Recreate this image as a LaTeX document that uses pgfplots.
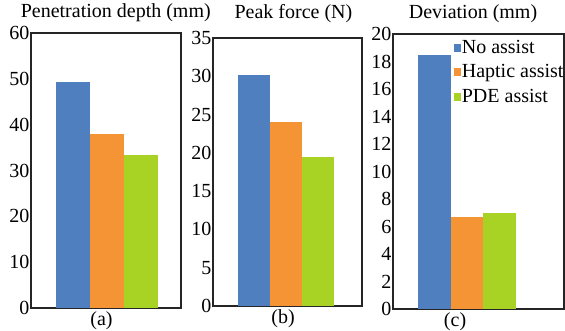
\documentclass[border=0pt]{standalone}
\usepackage{pgfplots}
\pgfplotsset{compat=1.18}
\usepackage{fontspec}
\setmainfont{Liberation Serif}
\definecolor{cblue}{HTML}{4F7FBF}
\definecolor{corange}{HTML}{F59434}
\definecolor{cgreen}{HTML}{A8D324}
\definecolor{frame}{HTML}{252525}
\newcommand{\bigf}{\rmfamily\fontsize{20bp}{24bp}\selectfont}
\pgfplotsset{
  panel/.style={
    scale only axis,
    anchor=south west,
    ybar=0pt,
    ymin=0,
    xmin=-1,
    xtick=\empty,
    axis line style={frame, line width=1.6bp},
    major tick length=0pt,
    tick style={draw=none},
    /pgf/number format/assume math mode=true,
    ticklabel style={font=\bigf},
    yticklabel style={inner sep=1.5bp},
    title style={font=\bigf, anchor=base, inner sep=0pt},
    xlabel style={font=\bigf, anchor=north, inner sep=0pt},
  },
  lg/.style={legend image code/.code={\fill[##1] (0bp,-3.5bp) rectangle (7.5bp,4.5bp);}},
}
\begin{document}
\begin{tikzpicture}
\useasboundingbox (0,0) rectangle (565bp,331bp);
% (a)
\begin{axis}[panel,
  at={(31bp,23bp)}, width=150bp, height=275bp,
  xmax=0.961, ymax=60, ytick={0,10,...,60},
  bar width=34bp,
  title={Penetration depth (mm)},
  title style={at={(axis description cs:0.565,1.033)}},
  xlabel={(a)},
  xlabel style={at={(axis description cs:0.47,-0.012)}},
]
\addplot[fill=cblue, draw=none] coordinates {(0,49.4)};
\addplot[fill=corange, draw=none] coordinates {(0,37.9)};
\addplot[fill=cgreen, draw=none] coordinates {(0,33.3)};
\end{axis}
% (b)
\begin{axis}[panel,
  at={(213bp,25bp)}, width=149bp, height=268bp,
  xmax=1.041, ymax=35, ytick={0,5,...,35},
  bar width=32bp,
  title={Peak force (N)},
  title style={at={(axis description cs:0.54,1.052)}},
  xlabel={(b)},
  xlabel style={at={(axis description cs:0.47,-0.012)}},
]
\addplot[fill=cblue, draw=none] coordinates {(0,30.2)};
\addplot[fill=corange, draw=none] coordinates {(0,24.0)};
\addplot[fill=cgreen, draw=none] coordinates {(0,19.4)};
\end{axis}
% (c)
\begin{axis}[panel,
  at={(393bp,22bp)}, width=171bp, height=275bp,
  xmax=1.311, ymax=20, ytick={0,2,...,20},
  bar width=32.5bp,
  title={Deviation (mm)},
  title style={at={(axis description cs:0.468,1.036)}},
  xlabel={(c)},
  xlabel style={at={(axis description cs:0.363,-0.012)}},
  legend style={draw=none, fill=none, font=\bigf,
    at={(axis description cs:0.353,0.985)}, anchor=north west,
    inner sep=0pt, row sep=5bp,
    nodes={inner sep=0.8bp, text height=14bp, text depth=4bp},
    cells={anchor=west}},
]
\addplot[fill=cblue, draw=none, lg] coordinates {(0,18.45)};
\addplot[fill=corange, draw=none, lg] coordinates {(0,6.7)};
\addplot[fill=cgreen, draw=none, lg] coordinates {(0,7.0)};
\legend{No assist, Haptic assist, PDE assist}
\end{axis}
\end{tikzpicture}
\end{document}
